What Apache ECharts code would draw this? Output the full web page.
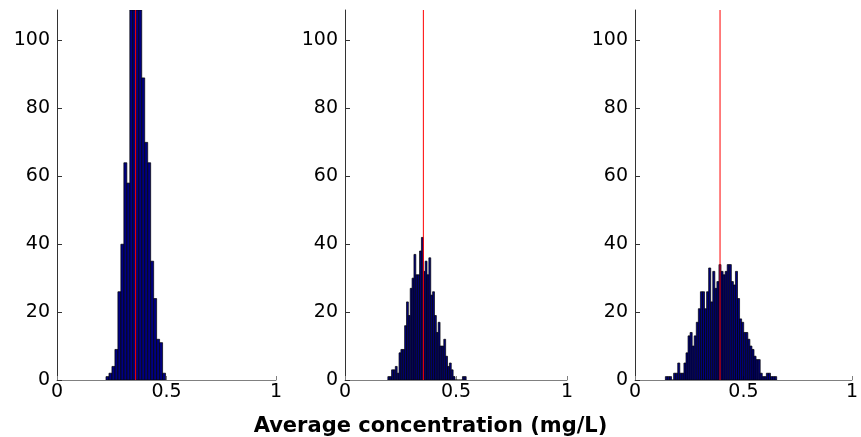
<!DOCTYPE html>
<html><head><meta charset="utf-8">
<script src="https://cdn.jsdelivr.net/npm/echarts@6/dist/echarts.min.js"></script>
<style>html,body{margin:0;padding:0;background:#fff}#c{width:861px;height:437px}</style>
</head><body><div id="c"></div>
<script>
// ---- data ----
const xTicks = [0, 0.5, 1];
const yTicks = [0, 20, 40, 60, 80, 100];
const yMax = 109;

const p1Start = 0.2237, p1BinWidth = 0.0136;
const p1Counts = [1, 2, 4, 9, 26, 40, 64, 58, 115, 135, 128, 111, 89, 70, 64, 35, 24, 12, 11, 2];
const p1Mean = 0.359;

const p2Start = 0.193, p2BinWidth = 0.0084;
const p2Counts = [1, 1, 3, 3, 4, 2, 8, 9, 9, 16, 23, 19, 27, 30, 37, 31, 31, 38, 42, 32, 35, 31, 36, 25, 26, 19, 14, 17, 10, 10, 12, 7, 4, 5, 3, 1, 0, 0, 0, 0, 1, 1];
const p2Mean = 0.353;

const p3Start = 0.140, p3BinWidth = 0.0095;
const p3Counts = [1, 1, 1, 0, 2, 2, 5, 2, 2, 5, 8, 13, 14, 10, 13, 17, 21, 26, 26, 21, 26, 33, 23, 32, 27, 29, 34, 32, 31, 32, 34, 34, 29, 28, 32, 24, 18, 17, 14, 14, 12, 10, 9, 7, 6, 6, 2, 1, 1, 2, 2, 1, 1, 1];
const p3Mean = 0.392;

const xLabel = 'Average concentration (mg/L)';

// ---- build ----
function bins(start, w, counts) {
  return counts.map((c, i) => [start + i * w, start + (i + 1) * w, c]);
}
const panels = [
  { data: bins(p1Start, p1BinWidth, p1Counts), mean: p1Mean },
  { data: bins(p2Start, p2BinWidth, p2Counts), mean: p2Mean },
  { data: bins(p3Start, p3BinWidth, p3Counts), mean: p3Mean }
];
const grids = [
  { left: 57, top: 10, width: 219, height: 370 },
  { left: 345, top: 10, width: 222, height: 370 },
  { left: 635, top: 10, width: 221, height: 370 }
];
const FONT = 'DejaVu Sans';
const xAxes = grids.map((g, i) => ({
  type: 'value', gridIndex: i, min: 0, max: 1,
  axisLine: { show: true, lineStyle: { color: '#808080', width: 1 } },
  axisTick: { show: true, inside: true, length: 4, customValues: xTicks, lineStyle: { color: '#808080' } },
  axisLabel: { customValues: xTicks, color: '#000', fontFamily: FONT, fontSize: 19, margin: 3 },
  splitLine: { show: false }
}));
const yAxes = grids.map((g, i) => ({
  type: 'value', gridIndex: i, min: 0, max: yMax,
  axisLine: { show: true, lineStyle: { color: '#333', width: 1 } },
  axisTick: { show: true, inside: true, length: 5, customValues: yTicks, lineStyle: { color: '#333' } },
  axisLabel: { customValues: yTicks, color: '#000', fontFamily: FONT, fontSize: 19, margin: 7 },
  splitLine: { show: false }
}));
const series = [];
panels.forEach((p, i) => {
  series.push({
    type: 'custom', xAxisIndex: i, yAxisIndex: i, clip: true,
    data: p.data,
    encode: { x: [0, 1], y: 2 },
    renderItem: (params, api) => {
      const v = Math.min(api.value(2), yMax);
      const a = api.coord([api.value(0), v]);
      const b = api.coord([api.value(1), 0]);
      return {
        type: 'rect',
        shape: { x: a[0], y: a[1], width: b[0] - a[0], height: b[1] - a[1] },
        style: { fill: '#000080', stroke: '#000', lineWidth: 0.7 }
      };
    },
    z: 2
  });
  series.push({
    type: 'line', xAxisIndex: i, yAxisIndex: i,
    data: [[p.mean, 0], [p.mean, yMax]],
    symbol: 'none', lineStyle: { color: '#ff0000', width: 1 }, z: 5, silent: true
  });
});
const chart = echarts.init(document.getElementById('c'), null, { renderer: 'canvas' });
chart.setOption({
  animation: false,
  backgroundColor: '#fff',
  title: { text: xLabel, left: 'center', top: 411, textStyle: { fontFamily: FONT, fontWeight: 'bold', fontSize: 21, color: '#000' } },
  grid: grids,
  xAxis: xAxes,
  yAxis: yAxes,
  series: series
});
</script>
</body></html>
